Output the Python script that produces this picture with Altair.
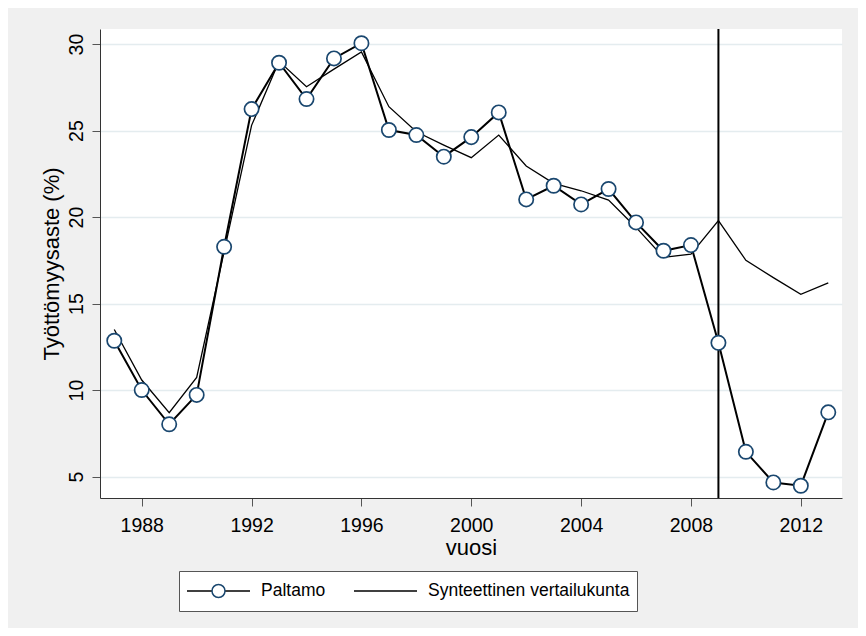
import altair as alt
import pandas as pd

# ---- data ----
years = list(range(1987, 2014))
paltamo = [12.85, 10.0, 8.02, 9.72, 18.28, 26.24, 28.92, 26.82, 29.17, 30.05,
           25.03, 24.74, 23.49, 24.62, 26.05, 21.02, 21.81, 20.73, 21.62, 19.69,
           18.05, 18.38, 12.73, 6.43, 4.66, 4.47, 8.71]
synthetic = [13.5, 10.58, 8.69, 10.73, 18.0, 25.3, 29.0, 27.53, 28.55, 29.55,
             26.38, 24.93, 24.16, 23.43, 24.74, 22.95, 21.95, 21.52, 20.98, 19.4,
             17.67, 17.86, 19.79, 17.5, 16.5, 15.53, 16.2]
intervention = [2009]
x_ticks = [1988, 1992, 1996, 2000, 2004, 2008, 2012]
y_ticks = [5, 10, 15, 20, 25, 30]
P = "Paltamo"
S = "Synteettinen vertailukunta"

NAVY = "#1A476F"
BG = "#F0F0F0"
FONT = "Liberation Sans"

n = len(years)
df = pd.DataFrame({
    "year": years * 2,
    "value": paltamo + synthetic,
    "series": [P] * n + [S] * n,
})
df["leg2"] = df["series"] + "#"
rule_df = pd.DataFrame({"year": intervention})

xenc = alt.X(
    "year:Q",
    scale=alt.Scale(domain=[1986.48, 2013.5], nice=False, zero=False),
    axis=alt.Axis(
        values=x_ticks, format="d", title="vuosi", grid=False,
        tickSize=8, tickColor="#555", domainColor="#333", domainWidth=1,
        labelFont=FONT, labelFontSize=19.5, labelColor="black",
        labelBaseline="alphabetic", labelPadding=25.5, labelFlush=False,
        labelOverlap=False,
        titleFont=FONT, titleFontSize=22, titleFontWeight="normal",
        titleColor="black", titleBaseline="alphabetic", titleY=56,
    ),
)
yenc = alt.Y(
    "value:Q",
    scale=alt.Scale(domain=[3.76, 30.87], nice=False, zero=False),
    axis=alt.Axis(
        values=y_ticks, title="Työttömyysaste (%)", grid=True,
        gridColor="#E4ECEF", gridWidth=1.5,
        tickSize=8, tickColor="#555", domainColor="#333", domainWidth=1,
        labelFont=FONT, labelFontSize=19.5, labelColor="black",
        labelAngle=-90, labelAlign="center", labelBaseline="alphabetic",
        labelPadding=10, labelOverlap=False, labelFlush=False,
        titleFont=FONT, titleFontSize=22, titleFontWeight="normal",
        titleColor="black", titleAngle=-90, titleAlign="center",
        titleBaseline="alphabetic", titleX=-41.5, titleY=234.5,
    ),
)

common_legend = dict(
    orient="none", legendX=79, legendY=542, direction="horizontal",
    title=None, clipHeight=26,
    padding=7, labelFont=FONT, labelFontSize=17.5, labelColor="black",
    columnPadding=27, labelLimit=400,
)

colorenc = alt.Color(
    "series:N",
    scale=alt.Scale(domain=[P, S], range=["#000000", "#000000"]),
    legend=alt.Legend(symbolType="stroke", symbolSize=3969,
                      symbolStrokeWidth=1.5, labelOffset=10,
                      fillColor="white", strokeColor="#555", **common_legend),
)
opacityenc = alt.Opacity(
    "leg2:N",
    scale=alt.Scale(type="ordinal", domain=[P + "#", S + "#"], range=[1, 0]),
    legend=alt.Legend(
        symbolType="circle", symbolSize=169, symbolOffset=23.75,
        symbolStrokeWidth=1.5, labelOffset=10,
        labelExpr="''",
        **common_legend),
)

base = alt.Chart(df)

rule = alt.Chart(rule_df).mark_rule(color="black", strokeWidth=2).encode(x=xenc)
line_p = base.transform_filter(alt.datum.series == P).mark_line(
    strokeWidth=2).encode(x=xenc, y=yenc, color=colorenc)
line_s = base.transform_filter(alt.datum.series == S).mark_line(
    strokeWidth=1.3).encode(x=xenc, y=yenc, color=colorenc)
points = base.transform_filter(alt.datum.series == P).mark_point(
    filled=False, color=NAVY, fill="white", fillOpacity=1, strokeWidth=1.7,
    size=205
).encode(x=xenc, y=yenc, opacity=opacityenc)

chart = alt.layer(rule, line_p, line_s, points).properties(
    width=742, height=469,
    padding={"left": 92, "top": 21, "right": 16, "bottom": 130},
    autosize=alt.AutoSizeParams(type="none"),
    background=BG,
).configure_view(fill="white", stroke=None)

chart.save("out.html", embed_options={"renderer": "svg", "actions": False})
